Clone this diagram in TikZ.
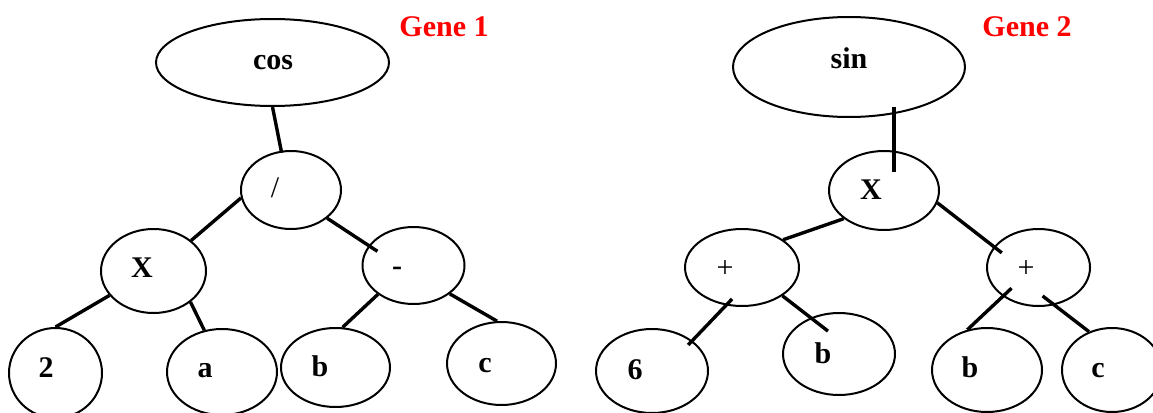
\documentclass[tikz,border=0pt]{standalone}
\usepackage{fontspec}
\setmainfont{Liberation Serif}
\usetikzlibrary{shapes.geometric}

\begin{document}
\begin{tikzpicture}[
            x=1pt, y=-1pt,
            every node/.style = {font=\fontsize{30}{30}\selectfont\bfseries},
            op/.style 2 args = {shape=ellipse, draw, line width=2pt, inner sep=0pt, minimum width=#1, minimum height=#2},
            txt/.style n args = {3}{label={[inner sep=0pt, text height=0pt, text depth=0pt, xshift=#1, yshift=#2]center:#3}},
            link/.style = {line width=3.4pt},
            title/.style = {anchor=base, text=red}
        ]

        \useasboundingbox (0,0) rectangle (1153,412);

        \node[title] (gene1) at (444,37) {Gene 1};
        \node[op={233pt}{87pt}, txt={0.5pt}{-7.5pt}{cos}] (cos) at (272.5,62.5) {};
        \node[op={100pt}{78pt}, txt={-16pt}{-7.5pt}{\mdseries /}] (div) at (291,190) {};
        \node[op={105pt}{84pt}, txt={-11.5pt}{-6pt}{X}] (mul) at (153.5,271) {};
        \node[op={102pt}{77pt}, txt={-16.5pt}{-9.5pt}{-}] (sub) at (413.5,265.5) {};
        \node[op={93pt}{90pt}, txt={-9.5pt}{-4pt}{2}] (two) at (55.5,373) {};
        \node[op={110pt}{86pt}, txt={-17pt}{-5pt}{a}] (a1) at (222,372) {};
        \node[op={109pt}{79pt}, txt={-15.5pt}{-8.5pt}{b}] (b1) at (335.5,367.5) {};
        \node[op={109pt}{83pt}, txt={-16.5pt}{-8.5pt}{c}] (c1) at (501.5,363.5) {};

        \draw[link, shorten >=-2pt] (cos.south) -- (div.104);
        \draw[link] (div.189) -- (mul.39);
        \draw[link, shorten >=-10.5pt] (div.-38.5) -- (sub.156);
        \draw[link] (mul.209) -- (two.north);
        \draw[link] (mul.-40) -- (a1.113);
        \draw[link] (sub.219) -- (b1.80);
        \draw[link] (sub.-38) -- (c1.96);

        \node[title] (gene2) at (1027,37) {Gene 2};
        \node[op={232pt}{100pt}, txt={0pt}{-1pt}{sin}] (sin) at (849,67) {};
        \node[op={110pt}{79pt}, txt={-13pt}{-8.5pt}{X}] (mul2) at (884,190.5) {};
        \node[op={114pt}{77pt}, txt={-17pt}{-9.5pt}{\mdseries +}] (addl) at (742,267.5) {};
        \node[op={103pt}{77pt}, txt={-12.5pt}{-9.5pt}{\mdseries +}] (addr) at (1038.5,267.5) {};
        \node[op={112pt}{84pt}, txt={-17pt}{-8pt}{6}] (six) at (652,371) {};
        \node[op={112pt}{82pt}, txt={-16pt}{-9pt}{b}] (b2) at (839,354) {};
        \node[op={110pt}{84pt}, txt={-17pt}{-7pt}{b}] (b3) at (987,370) {};
        \node[op={100pt}{84pt}, txt={-14pt}{-7pt}{c}] (c3) at (1112,370) {};

        \draw[link] ([shift={(45pt,-40pt)}]sin.center) -- ([shift={(10pt,18.5pt)}]mul2.center);
        \draw[link] (mul2.215) -- (addl.34);
        \draw[link, shorten >=-10pt] (mul2.-13) -- (addr.155);
        \draw[link, shorten <=-9pt, shorten >=-6pt] (addl.247) -- (six.37.6);
        \draw[link, shorten >=-22pt] (addl.-35.5) -- (b2.128.5);
        \draw[link, shorten <=-12pt] (addr.219.6) -- (b3.116);
        \draw[link, shorten <=-15pt] (addr.-67) -- (c3.121);

    \end{tikzpicture}
\end{document}
